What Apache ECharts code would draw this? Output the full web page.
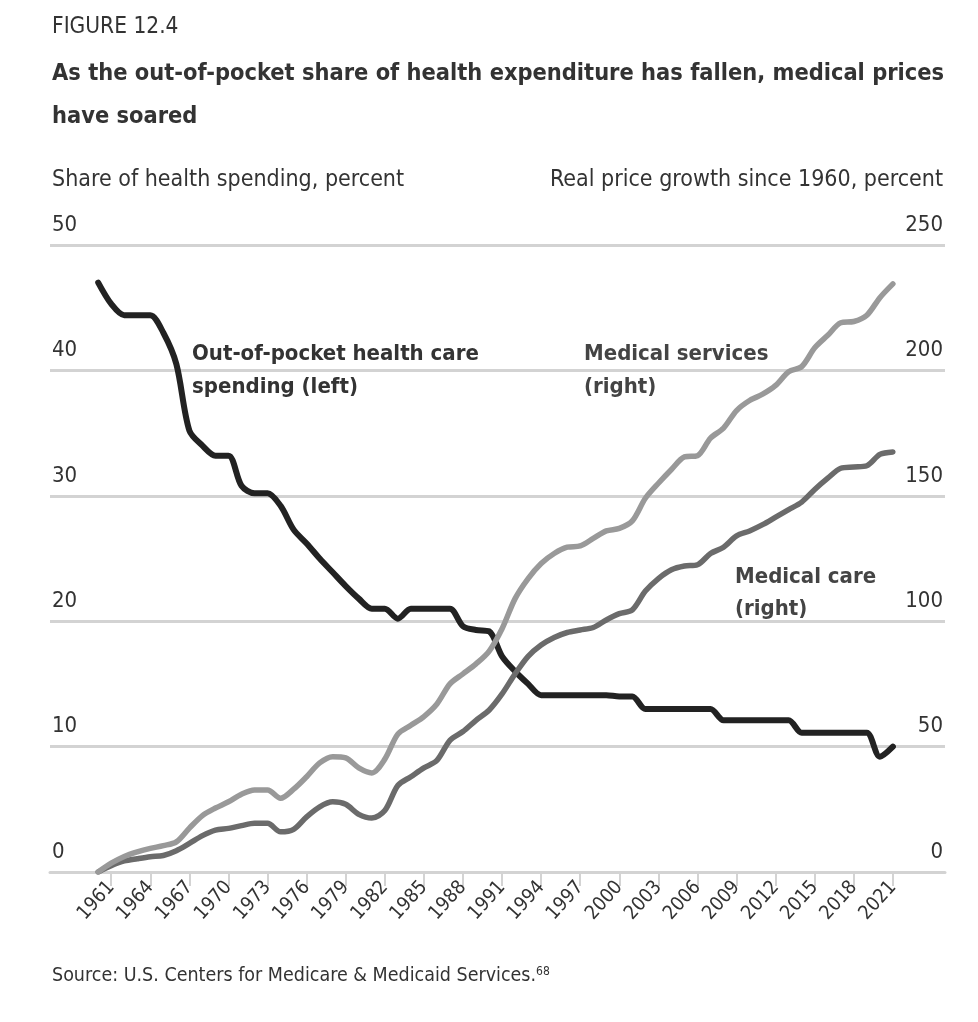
<!DOCTYPE html>
<html>
<head>
<meta charset="utf-8">
<script src="https://cdn.jsdelivr.net/npm/echarts@6/dist/echarts.min.js"></script>
<style>
html,body{margin:0;padding:0;background:#fff;}
#chart{width:978px;height:1022px;}
</style>
</head>
<body>
<div id="chart"></div>
<script>
const years = [];
for (let y = 1960; y <= 2021; y++) years.push(y);

const tickYears = [1961,1964,1967,1970,1973,1976,1979,1982,1985,1988,1991,1994,1997,2000,2003,2006,2009,2012,2015,2018,2021];

const outOfPocket = [
  47.0,45.3,44.4,44.4,44.4,43.0,40.5,35.2,34.0,33.2,
  33.2,30.8,30.2,30.2,29.2,27.3,26.2,25.0,23.9,22.8,
  21.8,21.0,21.0,20.2,21.0,21.0,21.0,21.0,19.6,19.3,
  19.2,17.2,16.0,15.0,14.1,14.1,14.1,14.1,14.1,14.1,
  14.0,14.0,13.0,13.0,13.0,13.0,13.0,13.0,12.1,12.1,
  12.1,12.1,12.1,12.1,11.1,11.1,11.1,11.1,11.1,11.1,
  9.2,10.0
];

const medicalCare = [
  0,2.5,4.4,5.3,6.1,6.6,8.5,11.4,14.5,16.7,
  17.4,18.5,19.4,19.4,16,17,22,26,28,27,
  23,21.5,24.5,34.5,38,41.5,44.5,52.5,56,60.5,
  64.5,71,79,86,90.5,93.5,95.5,96.5,97.5,100.5,
  103,104.5,112,117,120.5,122,122.5,127,129.5,134,
  136,138.5,141.5,144.5,147.5,152.5,157,161,161.5,162,
  166.5,167.5
];

const medicalServices = [
  0,3.5,6.2,8,9.4,10.5,12,17.5,22.5,25.5,
  28,31,32.7,32.7,29.4,33,38,43.5,46,45.5,
  41.5,39.5,45,55,58.5,62,67,75,79,83,
  88,97,109,117,123,127,129.5,130,133,136,
  137,140,149,155,160.5,165.5,166,173,177,184,
  188,190.5,194,199.5,201.5,209,214,219,219.5,222,
  229,234.5
];

const leftTicks = [0,10,20,30,40,50];
const rightTicks = [0,50,100,150,200,250];

const FONT = "'DejaVu Sans Condensed','Liberation Sans Narrow','Roboto',sans-serif";
const TXT = '#333333';
const GRID = '#d3d3d3';

const pairs = (vals) => years.map((y, i) => [y, vals[i]]);

const chart = echarts.init(document.getElementById('chart'), null, {renderer: 'canvas'});

const option = {
  backgroundColor: '#ffffff',
  animation: false,
  textStyle: {fontFamily: FONT},
  grid: {left: 50, right: 33, top: 245, bottom: 150},
  xAxis: {
    type: 'value',
    min: 1956.3,
    max: 2025,
    axisLine: {show: true, lineStyle: {color: GRID, width: 3}},
    axisTick: {show: true, customValues: tickYears, length: 14, lineStyle: {color: GRID, width: 2}},
    axisLabel: {
      customValues: tickYears, rotate: 48, margin: 12,
      fontFamily: FONT, fontSize: 19.5, color: TXT,
      formatter: (v) => String(v)
    },
    splitLine: {show: false}
  },
  yAxis: [
    {
      type: 'value', position: 'left', min: 0, max: 50, interval: 10,
      axisLine: {show: false}, axisTick: {show: false},
      splitLine: {show: true, lineStyle: {color: GRID, width: 3}},
      axisLabel: {
        inside: true, margin: 2, verticalAlign: 'bottom', padding: [0,0,9,0],
        fontFamily: FONT, fontSize: 22, color: TXT
      }
    },
    {
      type: 'value', position: 'right', min: 0, max: 250, interval: 50,
      axisLine: {show: false}, axisTick: {show: false},
      splitLine: {show: false},
      axisLabel: {
        inside: true, margin: 2, verticalAlign: 'bottom', padding: [0,0,9,0],
        fontFamily: FONT, fontSize: 22, color: TXT
      }
    }
  ],
  series: [
    {
      name: 'Out-of-pocket health care spending (left)', type: 'line', yAxisIndex: 0,
      data: pairs(outOfPocket), showSymbol: false, smooth: 0.3,
      lineStyle: {color: '#222222', width: 6, cap: 'round', join: 'round'}
    },
    {
      name: 'Medical care (right)', type: 'line', yAxisIndex: 1,
      data: pairs(medicalCare), showSymbol: false, smooth: 0.3,
      lineStyle: {color: '#6b6b6b', width: 5.5, cap: 'round', join: 'round'}
    },
    {
      name: 'Medical services (right)', type: 'line', yAxisIndex: 1,
      data: pairs(medicalServices), showSymbol: false, smooth: 0.3,
      lineStyle: {color: '#999999', width: 5.5, cap: 'round', join: 'round'}
    }
  ],
  graphic: [
    {type: 'text', left: 52, top: 16, style: {text: 'FIGURE 12.4', fontFamily: FONT, fontSize: 22.5, fill: TXT}},
    {type: 'text', left: 52, top: 62, style: {text: 'As the out-of-pocket share of health expenditure has fallen, medical prices', fontFamily: FONT, fontSize: 23.4, fontWeight: 'bold', fill: TXT}},
    {type: 'text', left: 52, top: 105, style: {text: 'have soared', fontFamily: FONT, fontSize: 23.4, fontWeight: 'bold', fill: TXT}},
    {type: 'text', left: 52, top: 169, style: {text: 'Share of health spending, percent', fontFamily: FONT, fontSize: 23, fill: TXT}},
    {type: 'text', right: 35, top: 169, style: {text: 'Real price growth since 1960, percent', fontFamily: FONT, fontSize: 23, fill: TXT}},
    {type: 'text', left: 192, top: 338, style: {text: 'Out-of-pocket health care\nspending (left)', fontFamily: FONT, fontSize: 22, fontWeight: 'bold', lineHeight: 33, fill: '#333333'}},
    {type: 'text', left: 584, top: 338, style: {text: 'Medical services\n(right)', fontFamily: FONT, fontSize: 22, fontWeight: 'bold', lineHeight: 33, fill: '#444444'}},
    {type: 'text', left: 735, top: 561, style: {text: 'Medical care\n(right)', fontFamily: FONT, fontSize: 22, fontWeight: 'bold', lineHeight: 32, fill: '#444444'}},
    {type: 'text', left: 52, top: 966, style: {
      text: 'Source: U.S. Centers for Medicare & Medicaid Services.{sup|68}',
      fontFamily: FONT, fontSize: 19.5, fill: TXT,
      rich: {sup: {fontFamily: FONT, fontSize: 12, fill: TXT, verticalAlign: 'top'}}
    }}
  ]
};

chart.setOption(option);
</script>
</body>
</html>
